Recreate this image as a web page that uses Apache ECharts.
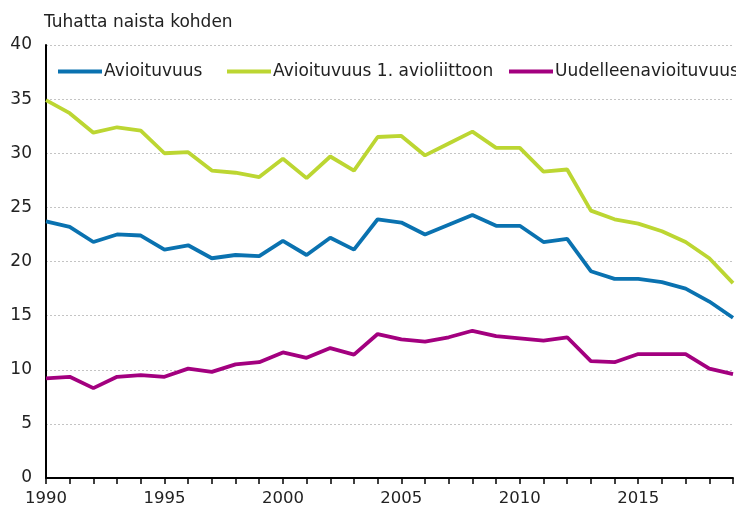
<!DOCTYPE html>
<html>
<head>
<meta charset="utf-8">
<script src="https://cdn.jsdelivr.net/npm/echarts@6/dist/echarts.min.js"></script>
<style>
  html, body { margin: 0; padding: 0; background: #fff; }
  #chart { width: 736px; height: 508px; }
</style>
</head>
<body>
<div id="chart"></div>
<script>
// vuodet 1990-2019
var years = [];
for (var y = 1990; y <= 2019; y++) years.push(String(y));

var avioituvuus = [23.7, 23.2, 21.8, 22.5, 22.4, 21.1, 21.5, 20.3, 20.6, 20.5,
  21.9, 20.6, 22.2, 21.1, 23.9, 23.6, 22.5, 23.4, 24.3, 23.3,
  23.3, 21.8, 22.1, 19.1, 18.4, 18.4, 18.1, 17.5, 16.3, 14.8];

var ensimmainen = [34.9, 33.7, 31.9, 32.4, 32.1, 30.0, 30.1, 28.4, 28.2, 27.8,
  29.5, 27.7, 29.7, 28.4, 31.5, 31.6, 29.8, 30.9, 32.0, 30.5,
  30.5, 28.3, 28.5, 24.7, 23.9, 23.5, 22.8, 21.8, 20.3, 18.0];

var uudelleen = [9.2, 9.35, 8.3, 9.35, 9.5, 9.35, 10.1, 9.8, 10.5, 10.7,
  11.6, 11.1, 12.0, 11.4, 13.3, 12.8, 12.6, 13.0, 13.6, 13.1,
  12.9, 12.7, 13.0, 10.8, 10.7, 11.45, 11.45, 11.45, 10.1, 9.6];

var seriesNames = ['Avioituvuus', 'Avioituvuus 1. avioliittoon', 'Uudelleenavioituvuus'];
var colors = ['#0a72b0', '#bcd632', '#a3007f'];
var legendLeft = [53, 222, 504];

var chart = echarts.init(document.getElementById('chart'));

function lineSeries(name, data, color) {
  return {
    name: name,
    type: 'line',
    data: data,
    symbol: 'none',
    color: color,
    lineStyle: { width: 3.8, color: color },
    z: 3
  };
}

// yksi legenda per sarja, jotta paikat osuvat kohdalleen
var legends = seriesNames.map(function (n, i) {
  return {
    data: [n],
    left: legendLeft[i],
    top: 58,
    icon: 'rect',
    itemWidth: 44,
    itemHeight: 4,
    textStyle: { fontSize: 17, color: '#222', padding: [0, 0, 0, -3] }
  };
});

chart.setOption({
  animation: false,
  textStyle: { fontFamily: 'DejaVu Sans, sans-serif' },
  title: {
    text: 'Tuhatta naista kohden',
    left: 39,
    top: 9,
    textStyle: { fontSize: 17, fontWeight: 'normal', color: '#222' }
  },
  legend: legends,
  grid: { left: 46, right: 3, top: 45, bottom: 30, containLabel: false },
  xAxis: {
    type: 'category',
    data: years,
    boundaryGap: false,
    axisLine: { lineStyle: { color: '#000', width: 2 } },
    axisTick: { interval: 0, length: 6, lineStyle: { color: '#000', width: 1.5 } },
    axisLabel: { interval: 4, fontSize: 16.5, color: '#222', margin: 12 },
    splitLine: { show: false }
  },
  yAxis: {
    type: 'value',
    min: 0,
    max: 40,
    interval: 5,
    axisLine: { show: true, lineStyle: { color: '#000', width: 2 } },
    axisTick: { show: false },
    axisLabel: { fontSize: 17, color: '#222', margin: 14 },
    splitLine: { lineStyle: { color: '#c4c4c4', type: [2, 2], width: 1 } }
  },
  series: [
    lineSeries(seriesNames[0], avioituvuus, colors[0]),
    lineSeries(seriesNames[1], ensimmainen, colors[1]),
    lineSeries(seriesNames[2], uudelleen, colors[2])
  ]
});
</script>
</body>
</html>
